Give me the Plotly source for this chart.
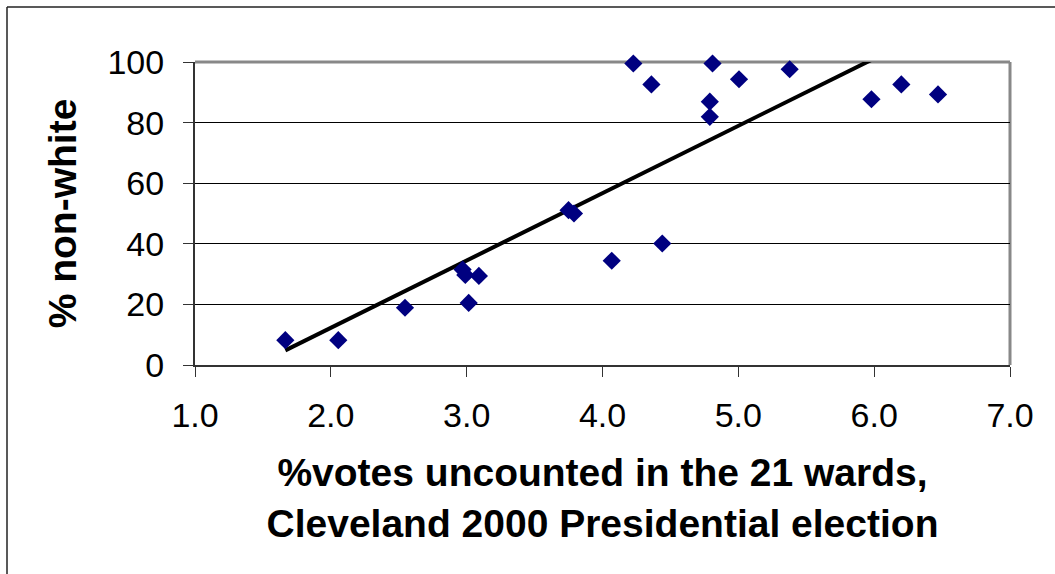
import numpy as np
import plotly.graph_objects as go

# Data
votes_uncounted = [1.665, 2.055, 2.546, 2.97, 2.99, 3.09, 3.015, 3.75, 3.79,
                   4.068, 4.44, 4.227, 4.36, 4.81, 5.005, 4.79, 4.79, 5.378,
                   5.98, 6.20, 6.47]
pct_nonwhite = [8.2, 8.2, 18.9, 31.5, 29.7, 29.4, 20.5, 51.1, 50.0,
                34.4, 40.1, 99.5, 92.6, 99.5, 94.3, 86.9, 81.9, 97.6,
                87.7, 92.6, 89.3]

x_ticks = [1, 2, 3, 4, 5, 6, 7]
x_tick_labels = ["1.0", "2.0", "3.0", "4.0", "5.0", "6.0", "7.0"]
y_ticks = [0, 20, 40, 60, 80, 100]
y_grid = [20, 40, 60, 80]

x_title = "%votes uncounted in the 21 wards,<br>Cleveland 2000 Presidential election"
y_title = "% non-white"

# Linear trendline (least squares) over the data range
slope, intercept = np.polyfit(votes_uncounted, pct_nonwhite, 1)
trend_x = [min(votes_uncounted), max(votes_uncounted)]
trend_y = [slope * v + intercept for v in trend_x]

FONT = "Liberation Sans, Arial, sans-serif"

fig = go.Figure()
fig.add_trace(go.Scatter(
    x=trend_x, y=trend_y, mode="lines",
    line=dict(color="black", width=4),
    showlegend=False, hoverinfo="skip"))
fig.add_trace(go.Scatter(
    x=votes_uncounted, y=pct_nonwhite, mode="markers",
    marker=dict(symbol="diamond", size=14, color="#000080",
                line=dict(width=0)),
    showlegend=False, hoverinfo="x+y", cliponaxis=False))

L, R, T, B = 195, 45, 62, 209
PW, PH = 1055 - L - R, 574 - T - B

fig.update_layout(
    width=1055, height=574,
    margin=dict(l=L, r=R, t=T, b=B, autoexpand=False),
    paper_bgcolor="white", plot_bgcolor="white",
    font=dict(family=FONT, color="black"),
    xaxis=dict(
        range=[1, 7], tickvals=x_ticks, ticktext=x_tick_labels,
        showgrid=False, zeroline=False,
        showline=True, linecolor="#333333", linewidth=2,
        ticks="outside", ticklen=10, tickcolor="#333333", tickwidth=1,
        tickfont=dict(size=34, family=FONT, color="black"),
        ticklabelstandoff=9,
        title=dict(text=x_title, standoff=26,
                   font=dict(size=39, family=FONT, weight="bold", color="black")),
    ),
    yaxis=dict(
        range=[0, 100], tickvals=y_ticks,
        showgrid=False, zeroline=False,
        minor=dict(tickvals=y_grid, showgrid=True, gridcolor="black",
                   gridwidth=1, ticks=""),
        showline=True, linecolor="#333333", linewidth=2,
        ticks="outside", ticklen=10, tickcolor="#333333", tickwidth=1,
        tickfont=dict(size=34, family=FONT, color="black"),
        ticklabelstandoff=12,
        title=dict(text=y_title, standoff=19,
                   font=dict(size=39, family=FONT, weight="bold", color="black")),
    ),
    shapes=[
        # plot-area border (top and right) in gray
        dict(type="line", xref="x domain", yref="y domain", x0=0, x1=1, y0=1, y1=1,
             line=dict(color="#888888", width=3), layer="below"),
        dict(type="line", xref="x domain", yref="y domain", x0=1, x1=1, y0=0, y1=1,
             line=dict(color="#888888", width=3), layer="below"),
        # outer chart border (left and top edges visible)
        dict(type="line", xref="paper", yref="paper",
             x0=(7 - L) / PW, x1=(1070 - L) / PW,
             y0=1 + (T - 7) / PH, y1=1 + (T - 7) / PH,
             line=dict(color="#222222", width=1.5)),
        dict(type="line", xref="paper", yref="paper",
             x0=(7 - L) / PW, x1=(7 - L) / PW,
             y0=1 + (T - 7) / PH, y1=-(600 - (574 - B)) / PH,
             line=dict(color="#222222", width=1.5)),
    ],
)

fig.write_html("out.html", config={"displayModeBar": False},
               post_script="document.body.style.margin='0';document.body.style.overflow='hidden';")
